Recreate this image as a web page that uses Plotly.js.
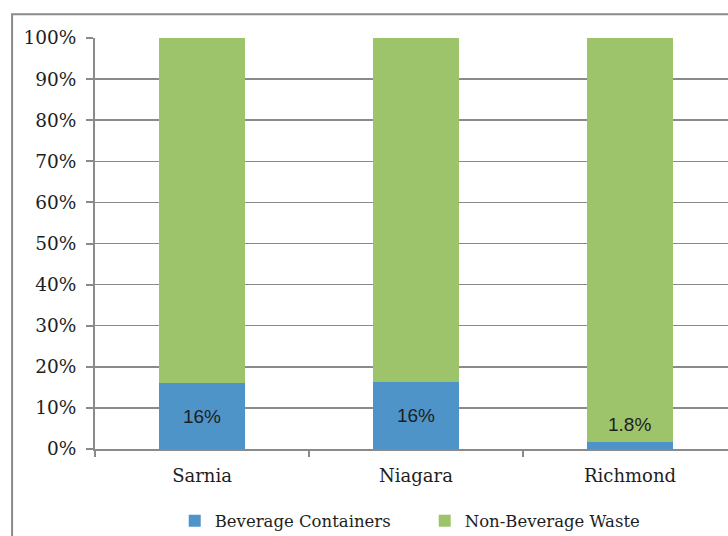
<!DOCTYPE html>
<html>
<head>
<meta charset="utf-8">
<script src="https://cdn.plot.ly/plotly-3.0.1.min.js"></script>
<style>
  html, body { margin: 0; padding: 0; background: #fff; }
  #plot { width: 728px; height: 536px; }
</style>
</head>
<body>
<div id="plot"></div>
<script>
// Share of beverage containers in collected waste, by city

const cities = ["Sarnia", "Niagara", "Richmond"];
const beverage = [16, 16.3, 1.8];
const nonBeverage = [84, 83.7, 98.2];
const beverageLabels = ["16%", "16%", "1.8%"];

const serif = "DejaVu Serif, serif";
const sans = "Liberation Sans, Arial, sans-serif";

// blue part, labels inside for the tall ones
const trace1 = {
  x: cities,
  y: beverage,
  name: "Beverage Containers",
  type: "bar",
  width: 0.4,
  marker: { color: "#4f94c8" },
  text: beverageLabels.map((t, i) => beverage[i] > 5 ? t : ""),
  textposition: "inside",
  insidetextanchor: "middle",
  textfont: { family: sans, size: 19, color: "#1e1e1e" },
  hoverinfo: "skip"
};

const trace2 = {
  x: cities,
  y: nonBeverage,
  name: "Non-Beverage Waste",
  type: "bar",
  width: 0.4,
  marker: { color: "#9ec46b" },
  hoverinfo: "skip"
};

// small slice label sits just above the bar
const smallLabels = [];
for (let i = 0; i < cities.length; i++) {
  if (beverage[i] <= 5) {
    smallLabels.push({
      x: cities[i], y: beverage[i], xref: "x", yref: "y",
      text: beverageLabels[i], showarrow: false,
      yanchor: "bottom", yshift: 5,
      font: { family: sans, size: 19, color: "#1e1e1e" }
    });
  }
}

const layout = {
  width: 728,
  height: 536,
  barmode: "stack",
  paper_bgcolor: "#fff",
  plot_bgcolor: "#fff",
  margin: { l: 95, r: 0, t: 38, b: 87 },
  showlegend: true,
  legend: {
    orientation: "h",
    xref: "container", yref: "container",
    x: 0.240, xanchor: "left",
    y: 0.028, yanchor: "middle",
    font: { family: serif, size: 16.5, color: "#1e1e1e" },
    entrywidth: 205,
    traceorder: "normal"
  },
  xaxis: {
    range: [-0.5, 2.458],
    automargin: false,
    showline: true,
    linecolor: "#8a8a8a",
    linewidth: 2,
    ticks: "outside",
    tickson: "boundaries",
    ticklen: 6,
    tickcolor: "#8a8a8a",
    tickwidth: 2,
    showgrid: false,
    tickfont: { family: serif, size: 18, color: "#1e1e1e" },
    ticklabelstandoff: 9
  },
  yaxis: {
    range: [0, 100],
    automargin: false,
    tickvals: [0, 10, 20, 30, 40, 50, 60, 70, 80, 90, 100],
    ticktext: ["0%", "10%", "20%", "30%", "40%", "50%", "60%", "70%", "80%", "90%", "100%"],
    showline: true,
    linecolor: "#8a8a8a",
    linewidth: 2,
    ticks: "outside",
    ticklen: 7,
    tickcolor: "#8a8a8a",
    tickwidth: 2,
    gridcolor: "#8a8a8a",
    gridwidth: 1.5,
    zeroline: false,
    tickfont: { family: serif, size: 18.5, color: "#1e1e1e" },
    ticklabelstandoff: 6
  },
  annotations: smallLabels,
  shapes: [{
    type: "rect", xref: "paper", yref: "paper",
    x0: -0.131, x1: 1.2, y0: -0.4, y1: 1.058,
    line: { color: "#8a8a8a", width: 2 },
    layer: "below"
  }]
};

Plotly.newPlot("plot", [trace1, trace2], layout, { displayModeBar: false, staticPlot: true });
</script>
</body>
</html>
